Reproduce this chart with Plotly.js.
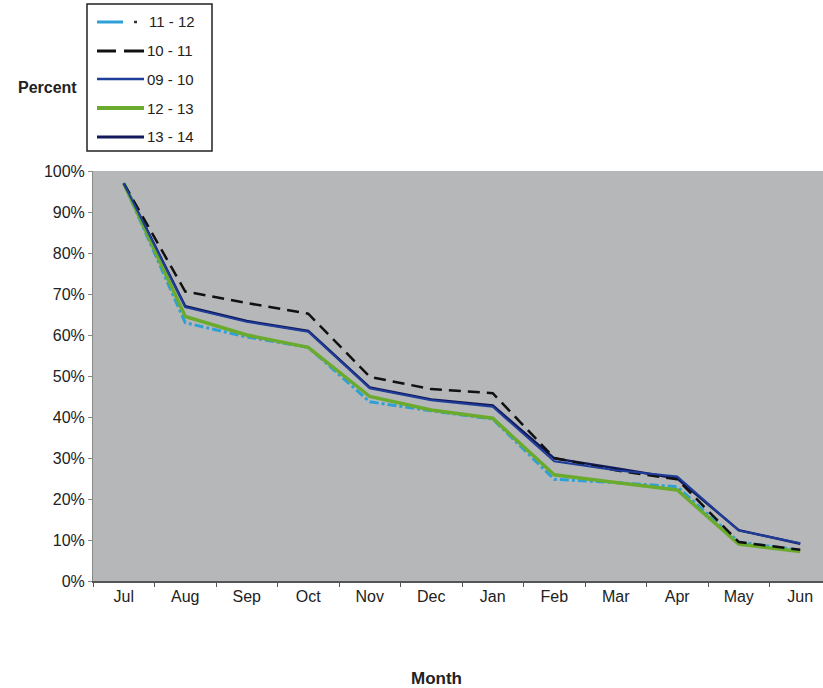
<!DOCTYPE html>
<html>
<head>
<meta charset="utf-8">
<script src="https://cdn.plot.ly/plotly-3.0.1.min.js"></script>
<style>html,body{margin:0;padding:0;background:#fff;overflow:hidden}</style>
</head>
<body>
<div id="chart" style="width:823px;height:688px"></div>
<script>
const months = ["Jul","Aug","Sep","Oct","Nov","Dec","Jan","Feb","Mar","Apr","May","Jun"];
const seriesNames = ["11 - 12","10 - 11","09 - 10","12 - 13","13 - 14"];
const s1112 = [97, 63, 59.5, 57, 43.7, 41.5, 39.5, 24.8, 24, 23, 9.5, 7.5];
const s1011 = [97, 70.6, 67.8, 65.2, 49.8, 46.8, 45.8, 30, 27, 24.8, 9.5, 7.6];
const s0910 = [97, 66.8, 63.2, 60.8, 47, 44.1, 42.5, 29.2, 27, 25.5, 12.3, 9.2];
const s1213 = [97, 64.5, 60, 57, 45, 41.7, 39.7, 25.9, 24, 22.2, 9, 7.2];
const s1314 = [97, 67, 63.4, 61, 47.2, 44.3, 42.8, 29.9, 27.5, 25, 12.4, 9.1];
const yTicks = [0,10,20,30,40,50,60,70,80,90,100];
const yTickText = yTicks.map(v => v + "%");

const styles = {
  "11 - 12": {color:"#2f9fd8", width:3, dash:"dashdot"},
  "10 - 11": {color:"#111111", width:2.5, dash:"12px,7px"},
  "09 - 10": {color:"#1f3e9a", width:2},
  "12 - 13": {color:"#6aab2e", width:3.5},
  "13 - 14": {color:"#12195a", width:2.5}
};
const dataByName = {"11 - 12":s1112,"10 - 11":s1011,"09 - 10":s0910,"12 - 13":s1213,"13 - 14":s1314};
const drawOrder = ["13 - 14","11 - 12","12 - 13","10 - 11","09 - 10"];
const traces = drawOrder.map(n => ({x:months, y:dataByName[n], name:n, type:"scatter",
  mode:"lines", line:styles[n], showlegend:false}));

// manual legend in paper coordinates (plot area: x 93..823 px, y 171..581 px)
const px = v => (v - 93) / 730;
const py = v => (581 - v) / 410;
const shapes = [{type:"rect", xref:"paper", yref:"paper", x0:px(87), x1:px(212), y0:py(151), y1:py(4),
  line:{color:"#222", width:1.5}, fillcolor:"#fff", layer:"above"}];
const annotations = [];
const itemY = [22, 51, 79, 108, 137];
seriesNames.forEach((n, i) => {
  const st = styles[n];
  const y = py(itemY[i]);
  if (n === "11 - 12") {
    shapes.push({type:"line", xref:"paper", yref:"paper", x0:px(97), x1:px(123), y0:y, y1:y,
      line:{color:st.color, width:3}});
    shapes.push({type:"line", xref:"paper", yref:"paper", x0:px(134), x1:px(137), y0:y, y1:y,
      line:{color:"#333", width:2.5}});
  } else if (n === "10 - 11") {
    shapes.push({type:"line", xref:"paper", yref:"paper", x0:px(97), x1:px(116), y0:y, y1:y,
      line:{color:st.color, width:3}});
    shapes.push({type:"line", xref:"paper", yref:"paper", x0:px(124), x1:px(144), y0:y, y1:y,
      line:{color:st.color, width:3}});
  } else {
    shapes.push({type:"line", xref:"paper", yref:"paper", x0:px(97), x1:px(144), y0:y, y1:y,
      line:{color:st.color, width:st.width + 0.5}});
  }
  annotations.push({text:n, xref:"paper", yref:"paper", x:px(n === "11 - 12" ? 147 : 145), y:y,
    xanchor:"left", yanchor:"middle", showarrow:false, font:{size:15, color:"#222"}});
});
annotations.push({text:"<b>Percent</b>", xref:"paper", yref:"paper", x:px(79), y:py(87),
  xanchor:"right", yanchor:"middle", showarrow:false, font:{size:16}});
annotations.push({text:"<b>Month</b>", xref:"paper", yref:"paper", x:px(436), y:py(678),
  xanchor:"center", yanchor:"middle", showarrow:false, font:{size:17}});

const layout = {
  width:823, height:688,
  margin:{l:93, r:0, t:171, b:107},
  paper_bgcolor:"#ffffff",
  plot_bgcolor:"#b6b7b9",
  font:{family:"Liberation Sans, Arial, sans-serif", color:"#222", size:16},
  showlegend:false,
  xaxis:{type:"category", range:[-0.5, 11.37], showgrid:false,
    tickson:"boundaries", ticks:"outside", ticklen:4, tickcolor:"#555",
    showline:true, linecolor:"#555", linewidth:1.5,
    tickfont:{size:16}, zeroline:false, fixedrange:true},
  yaxis:{range:[0,100], tickvals:yTicks, ticktext:yTickText, showgrid:false,
    ticks:"outside", ticklen:4, tickcolor:"#888", showline:true, linecolor:"#888",
    tickfont:{size:16}, zeroline:false, fixedrange:true},
  shapes:shapes,
  annotations:annotations
};
Plotly.newPlot("chart", traces, layout, {displayModeBar:false, staticPlot:true});
</script>
</body>
</html>
